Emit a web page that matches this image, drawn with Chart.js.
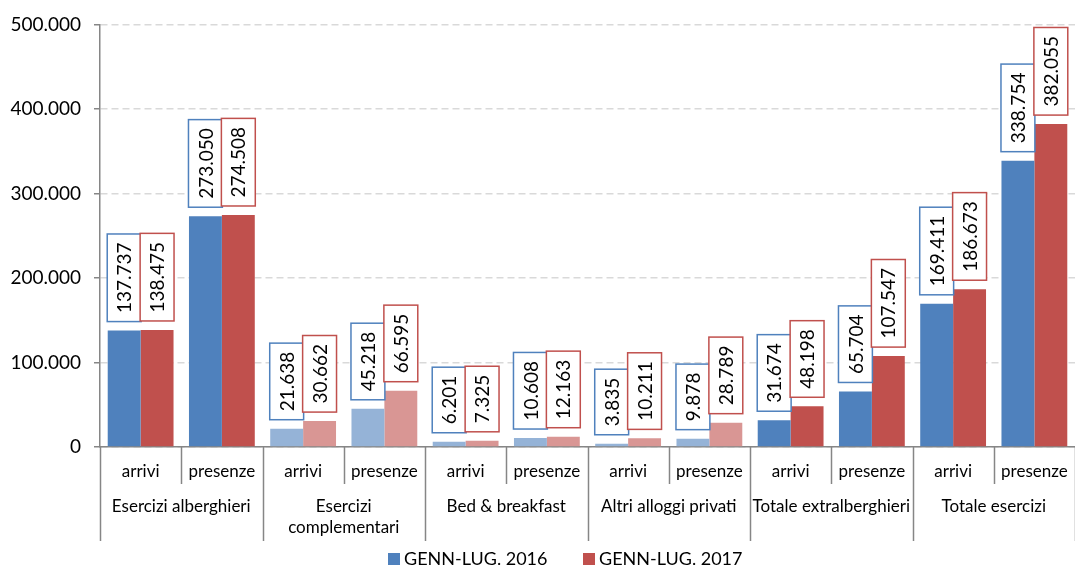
<!DOCTYPE html>
<html>
<head>
<meta charset="utf-8">
<script src="https://cdn.jsdelivr.net/npm/chart.js@4.4.0/dist/chart.umd.min.js"></script>
<style>
  html, body { margin: 0; padding: 0; background: #fff; }
  #wrap { width: 1075px; height: 567px; }
</style>
</head>
<body>
<div id="wrap"><canvas id="c" width="1075" height="567"></canvas></div>
<script>
// data
const subLabels = ['arrivi', 'presenze', 'arrivi', 'presenze', 'arrivi', 'presenze',
  'arrivi', 'presenze', 'arrivi', 'presenze', 'arrivi', 'presenze'];
const groupLabels = [['Esercizi alberghieri'], ['Esercizi', 'complementari'], ['Bed & breakfast'],
  ['Altri alloggi privati'], ['Totale extralberghieri'], ['Totale esercizi']];
const seriesNames = ['GENN-LUG. 2016', 'GENN-LUG. 2017'];
const values2016 = [137737, 273050, 21638, 45218, 6201, 10608, 3835, 9878, 31674, 65704, 169411, 338754];
const values2017 = [138475, 274508, 30662, 66595, 7325, 12163, 10211, 28789, 48198, 107547, 186673, 382055];
const yTicks = [0, 100000, 200000, 300000, 400000, 500000];
const lightGroups = [1, 2, 3]; // groups drawn in paler tint

const FONT = 'Lato, "Open Sans", sans-serif';
const BLUE = '#4F81BD', RED = '#C0504D';
const BLUE_L = '#95B3D7', RED_L = '#D99694';

function fmt(v) {
	return String(v).replace(/\B(?=(\d{3})+(?!\d))/g, '.');
}
function colorsFor(dark, light) {
	return subLabels.map((x, i) => lightGroups.includes(Math.floor(i / 2)) ? light : dark);
}

// boxed, rotated value labels above each bar
const boxLabels = {
	id: 'boxLabels',
	afterDatasetsDraw (chart)
	{
		const ctx = chart.ctx;
		ctx.save();
		ctx.font = '19px ' + FONT;
		chart.data.datasets.forEach((ds, di) => {
			const meta = chart.getDatasetMeta(di);
			meta.data.forEach((bar, i) => {
				const txt = fmt(ds.data[i]);
				const tw = ctx.measureText(txt).width;
				const w = bar.width + 1;
				const h = tw + 17;
				const bottom = bar.y - 9;
				const x0 = bar.x - w / 2;
				ctx.fillStyle = '#fff';
				ctx.fillRect(x0, bottom - h, w, h);
				ctx.strokeStyle = ds.labelBorder;
				ctx.lineWidth = 1.5;
				ctx.strokeRect(x0, bottom - h, w, h);
				ctx.save();
				ctx.translate(bar.x, bottom - h / 2);
				ctx.rotate(-Math.PI / 2);
				ctx.fillStyle = '#000';
				ctx.textAlign = 'center';
				ctx.textBaseline = 'middle';
				ctx.fillText(txt, 0, 1);
				ctx.restore();
			});
		});
		ctx.restore();
	}
};

// two-level category axis + legend
const axisLabels = {
	id: 'axisLabels',
	afterDraw (chart)
	{
		const ctx = chart.ctx;
		const xs = chart.scales.x;
		const area = chart.chartArea;
		const n = subLabels.length;
		const step = (area.right - area.left) / n;
		const base = area.bottom;
		ctx.save();
		ctx.strokeStyle = '#868686';
		ctx.lineWidth = 1.5;
		for (let i = 0; i <= n; i++) {
			const x = Math.round(area.left + i * step) + 0.5;
			const end = (i % 2 === 0) ? base + 94 : base + 37;
			ctx.beginPath();
			ctx.moveTo(x, base);
			ctx.lineTo(x, end);
			ctx.stroke();
		}
		ctx.fillStyle = '#000';
		ctx.font = '17px ' + FONT;
		ctx.textAlign = 'center';
		ctx.textBaseline = 'middle';
		subLabels.forEach((lab, i) => {
			ctx.fillText(lab, xs.getPixelForValue(i), base + 25);
		});
		groupLabels.forEach((lines, g) => {
			const cx = (xs.getPixelForValue(g * 2) + xs.getPixelForValue(g * 2 + 1)) / 2;
			lines.forEach((ln, k) => ctx.fillText(ln, cx, base + 60 + k * 21));
		});

		// legend
		ctx.font = '18px ' + FONT;
		ctx.textAlign = 'left';
		const ly = 559;
		let lx = 388;
		chart.data.datasets.forEach((ds, di) => {
			ctx.fillStyle = ds.labelBorder;
			ctx.fillRect(lx, ly - 6, 12, 12);
			ctx.fillStyle = '#000';
			ctx.fillText(seriesNames[di], lx + 16, ly);
			lx += 195;
		});
		ctx.restore();
	}
};

const ctx = document.getElementById('c').getContext('2d');
const myChart = new Chart(ctx, {
	type: 'bar',
	data: {
		labels: subLabels,
		datasets: [
			{
				label: seriesNames[0],
				data: values2016,
				backgroundColor: colorsFor(BLUE, BLUE_L),
				labelBorder: BLUE,
				categoryPercentage: 0.81,
				barPercentage: 1.0
			},
			{
				label: seriesNames[1],
				data: values2017,
				backgroundColor: colorsFor(RED, RED_L),
				labelBorder: RED,
				categoryPercentage: 0.81,
				barPercentage: 1.0
			}
		]
	},
	options: {
		responsive: false,
		animation: false,
		devicePixelRatio: 1,
		layout: { padding: { left: 0, right: 0, top: 21, bottom: 120 } },
		plugins: {
			legend: { display: false },
			tooltip: { enabled: false }
		},
		scales: {
			x: {
				ticks: { display: false },
				grid: { display: false },
				border: { display: true, color: '#868686', width: 1.5 },
				afterFit: (s) => { s.height = 0; }
			},
			y: {
				min: 0,
				max: 500000,
				afterBuildTicks: (s) => { s.ticks = yTicks.map(v => ({ value: v })); },
				ticks: {
					callback: (v) => fmt(v),
					font: { family: FONT, size: 19 },
					color: '#000',
					padding: 13
				},
				grid: {
					color: '#D9D9D9',
					lineWidth: 1.5,
					tickLength: 6,
					tickColor: '#868686',
					tickBorderDash: []
				},
				border: { display: true, color: '#868686', width: 1.5, dash: [7, 4] },
				afterFit: (s) => { s.width = 100; }
			}
		}
	},
	plugins: [boxLabels, axisLabels]
});
</script>
</body>
</html>
